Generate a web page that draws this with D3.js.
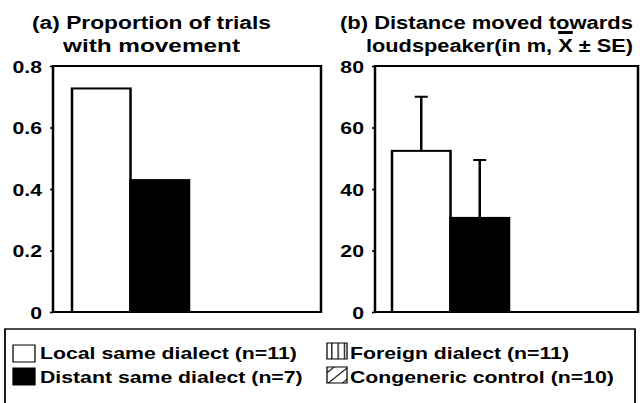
<!DOCTYPE html>
<meta charset="utf-8">
<style>
body { margin: 0; background: #fff; }
svg { display: block; }
text { font-family: "Liberation Sans", Arial, Helvetica, sans-serif; font-weight: bold; fill: #000; }
.title { font-size: 17.8px; }
.tick text { font-size: 17px; }
.legend text { font-size: 17px; }
</style>
<body>
<script src="https://d3js.org/d3.v7.min.js"></script>
<script>

// data
var categories = ["Local same dialect (n=11)", "Distant same dialect (n=7)", "Foreign dialect (n=11)", "Congeneric control (n=10)"];
var proportionMoved = [0.727, 0.429, 0, 0];
var distanceMean = [52.4, 30.6, 0, 0];
var distanceSE = [17.6, 18.8, 0, 0];
var proportionTicks = [0, 0.2, 0.4, 0.6, 0.8];
var distanceTicks = [0, 20, 40, 60, 80];
var fills = ["#fff", "#000", "url(#vert)", "url(#diag)"];

// the original figure is stretched sideways; draw narrow, then stretch
var SX = 1.25;
function X(v) { return v / SX; }

var W = 640, H = 403;
var svg = d3.select("body").append("svg")
    .attr("width", W)
    .attr("height", H)
    .attr("viewBox", "0 0 " + (W / SX) + " " + H)
    .attr("preserveAspectRatio", "none");

var defs = svg.append("defs");
var pv = defs.append("pattern").attr("id", "vert").attr("patternUnits", "userSpaceOnUse")
    .attr("width", 5).attr("height", 10);
pv.append("rect").attr("width", 5).attr("height", 10).attr("fill", "#fff");
pv.append("line").attr("x1", 0.5).attr("x2", 0.5).attr("y1", 0).attr("y2", 10).attr("stroke", "#000").attr("stroke-width", 1);
var pd = defs.append("pattern").attr("id", "diag").attr("patternUnits", "userSpaceOnUse")
    .attr("width", 8).attr("height", 8).attr("patternTransform", "rotate(-45)");
pd.append("rect").attr("width", 8).attr("height", 8).attr("fill", "#fff");
pd.append("line").attr("x1", 0).attr("x2", 8).attr("y1", 0.5).attr("y2", 0.5).attr("stroke", "#000").attr("stroke-width", 1);

var y0 = 312, y1 = 66;
var fmt = function(d) { return d === 0 ? "0" : String(d); };

function panel(opts) {
  var g = svg.append("g");
  var y = d3.scaleLinear().domain([0, opts.max]).range([y0, y1]);
  var x = d3.scaleBand().domain(categories).range([X(opts.barLeft), X(opts.barLeft + 4 * 58.5)]);

  g.append("rect")
      .attr("x", X(opts.left)).attr("y", y(opts.max))
      .attr("width", X(opts.right) - X(opts.left)).attr("height", y(0) - y(opts.max))
      .attr("fill", "none").attr("stroke", "#000").attr("stroke-width", 2);

  var ax = g.append("g")
      .attr("transform", "translate(" + X(opts.left) + ",0)")
      .call(d3.axisLeft(y).tickValues(opts.ticks).tickFormat(fmt).tickSize(X(3)).tickPadding(X(8)));
  ax.select(".domain").remove();
  ax.selectAll(".tick line").attr("stroke-width", 1.6);
  ax.selectAll(".tick text").attr("dy", "0.36em");

  var rows = categories.map(function(c, i) {
    return { cat: c, v: opts.values[i], se: opts.se ? opts.se[i] : 0, fill: fills[i] };
  }).filter(function(d) { return d.v > 0; });

  g.selectAll(".err").data(rows.filter(function(d) { return d.se > 0; })).enter()
    .append("path")
      .attr("d", function(d) {
        var cx = x(d.cat) + x.bandwidth() / 2, cw = X(6.5);
        return "M" + cx + "," + y(d.v) + "V" + y(d.v + d.se) + "M" + (cx - cw) + "," + y(d.v + d.se) + "H" + (cx + cw);
      })
      .attr("fill", "none").attr("stroke", "#000").attr("stroke-width", 2);

  g.selectAll(".bar").data(rows).enter()
    .append("rect")
      .attr("x", function(d) { return x(d.cat); })
      .attr("y", function(d) { return y(d.v); })
      .attr("width", x.bandwidth())
      .attr("height", function(d) { return y(0) - y(d.v); })
      .attr("fill", function(d) { return d.fill; })
      .attr("stroke", "#000").attr("stroke-width", 2);

  return g;
}

panel({ left: 53, right: 321, barLeft: 72, max: 0.8, ticks: proportionTicks, values: proportionMoved });
panel({ left: 375, right: 638, barLeft: 392, max: 80, ticks: distanceTicks, values: distanceMean, se: distanceSE });

// titles (x0, x1 in page pixels)
function title(x0, x1, yb, s) {
  return svg.append("text").attr("class", "title")
      .attr("x", X(x0)).attr("y", yb)
      .attr("textLength", X(x1) - X(x0))
      .attr("lengthAdjust", "spacingAndGlyphs")
      .text(s);
}
title(32, 271, 29, "(a) Proportion of trials");
title(63, 240, 52, "with movement");
title(340, 633, 29, "(b) Distance moved towards");
var line2 = "loudspeaker(in m, X \u00b1 SE)";
var t2 = title(366, 633, 52, line2);
var xi = line2.indexOf("X");
var node = t2.node();
var xs = node.getStartPositionOfChar(xi).x, xe = node.getEndPositionOfChar(xi).x;
svg.append("line").attr("x1", xs).attr("x2", xe).attr("y1", 32.5).attr("y2", 32.5)
    .attr("stroke", "#000").attr("stroke-width", 3);

// legend
var lg = svg.append("g").attr("class", "legend");
lg.append("rect").attr("x", X(5)).attr("y", 329).attr("width", X(635) - X(5)).attr("height", 80)
    .attr("fill", "none").attr("stroke", "#000").attr("stroke-width", 1.4);

var legendPos = [
  { sx: 13, sy: 345, sw: 22, sh: 17, tx: 40, ty: 359 },
  { sx: 13, sy: 368, sw: 22, sh: 17, tx: 40, ty: 383 },
  { sx: 327, sy: 343, sw: 20, sh: 16, tx: 350, ty: 359 },
  { sx: 327, sy: 367, sw: 20, sh: 16, tx: 350, ty: 383 }
];
var items = lg.selectAll(".item").data(categories).enter().append("g");
items.append("rect")
    .attr("x", function(d, i) { return X(legendPos[i].sx); })
    .attr("y", function(d, i) { return legendPos[i].sy; })
    .attr("width", function(d, i) { return X(legendPos[i].sw); })
    .attr("height", function(d, i) { return legendPos[i].sh; })
    .attr("fill", function(d, i) { return fills[i]; })
    .attr("stroke", "#000").attr("stroke-width", 1);
items.append("text")
    .attr("x", function(d, i) { return X(legendPos[i].tx); })
    .attr("y", function(d, i) { return legendPos[i].ty; })
    .text(function(d) { return d; });

</script>
</body>
